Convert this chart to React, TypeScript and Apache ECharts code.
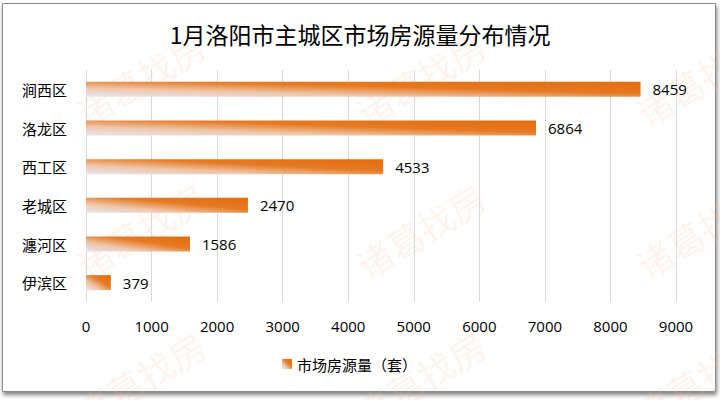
import React, { useEffect, useRef } from 'react';
import * as echarts from 'echarts';

const titleText = '1月洛阳市主城区市场房源量分布情况';
const seriesName = '市场房源量（套）';
const categories = ['涧西区', '洛龙区', '西工区', '老城区', '瀍河区', '伊滨区'];
const values = [8459, 6864, 4533, 2470, 1586, 379];
const axisMin = 0;
const axisMax = 9000;
const axisInterval = 1000;
const watermarkText = '诸葛找房';
const watermarkCols = [140, 420, 700];
const watermarkRows = [78, 230, 378];

const barGradient = new echarts.graphic.LinearGradient(0, 1, 1, 0, [
  { offset: 0, color: '#E8E6F0' },
  { offset: 0.3, color: '#EEC6A8' },
  { offset: 0.6, color: '#E67A24' },
  { offset: 1, color: '#E46C0A' },
]);

export default function App() {
  const ref = useRef<HTMLDivElement>(null);
  useEffect(() => {
    if (!ref.current) return;
    const chart = echarts.init(ref.current, null, { renderer: 'svg' });
    const marks: any[] = [];
    watermarkRows.forEach((y) =>
      watermarkCols.forEach((x) =>
        marks.push({
          type: 'text',
          x,
          y,
          rotation: 0.55,
          z: -5,
          silent: true,
          style: {
            text: watermarkText,
            fontSize: 36,
            fontFamily: 'Noto Sans CJK SC',
            fill: 'rgba(250, 185, 140, 0.16)',
            align: 'center',
            verticalAlign: 'middle',
          },
        })
      )
    );
    chart.setOption({
      animation: false,
      graphic: {
        elements: [
          {
            type: 'rect',
            z: -10,
            silent: true,
            shape: { x: 2.5, y: 3.5, width: 713, height: 388 },
            style: {
              fill: '#ffffff',
              stroke: '#8a8a8a',
              lineWidth: 1,
              shadowBlur: 4,
              shadowOffsetX: 1,
              shadowOffsetY: 3,
              shadowColor: 'rgba(0,0,0,0.5)',
            },
          },
          ...marks,
        ],
      },
      title: {
        text: titleText,
        left: 'center',
        top: 21,
        padding: 0,
        textStyle: {
          fontFamily: 'Noto Sans CJK SC',
          fontSize: 23,
          lineHeight: 25,
          fontWeight: 'normal',
          color: '#000',
        },
      },
      legend: {
        data: [seriesName],
        left: 282,
        top: 354,
        icon: 'rect',
        itemWidth: 10,
        itemHeight: 10,
        itemGap: 6,
        padding: 0,
        textStyle: {
          fontFamily: 'Noto Sans CJK SC',
          fontSize: 15,
          lineHeight: 20,
          color: '#000',
        },
      },
      grid: { left: 86, right: 44, top: 70, bottom: 98, containLabel: false },
      xAxis: {
        type: 'value',
        min: axisMin,
        max: axisMax,
        interval: axisInterval,
        axisLine: { show: false },
        axisTick: { show: false },
        splitLine: { show: true, lineStyle: { color: '#D9D9D9', width: 1 } },
        axisLabel: {
          margin: 16,
          color: '#000',
          fontFamily: 'Open Sans',
          fontSize: 15,
          formatter: (v: number) => String(v),
        },
      },
      yAxis: {
        type: 'category',
        data: categories,
        inverse: true,
        axisLine: { show: false },
        axisTick: { show: false },
        splitLine: { show: false },
        axisLabel: {
          margin: 19,
          color: '#000',
          fontFamily: 'Noto Sans CJK SC',
          fontSize: 15,
        },
      },
      series: [
        {
          name: seriesName,
          type: 'bar',
          data: values,
          barWidth: 15,
          itemStyle: { color: barGradient },
          label: {
            show: true,
            position: 'right',
            distance: 12,
            color: '#000',
            fontFamily: 'Open Sans',
            fontSize: 15,
          },
        },
      ],
    });
    return () => chart.dispose();
  }, []);
  return (
    <div
      ref={ref}
      style={{ position: 'absolute', left: 0, top: 0, width: 720, height: 400 }}
    />
  );
}
